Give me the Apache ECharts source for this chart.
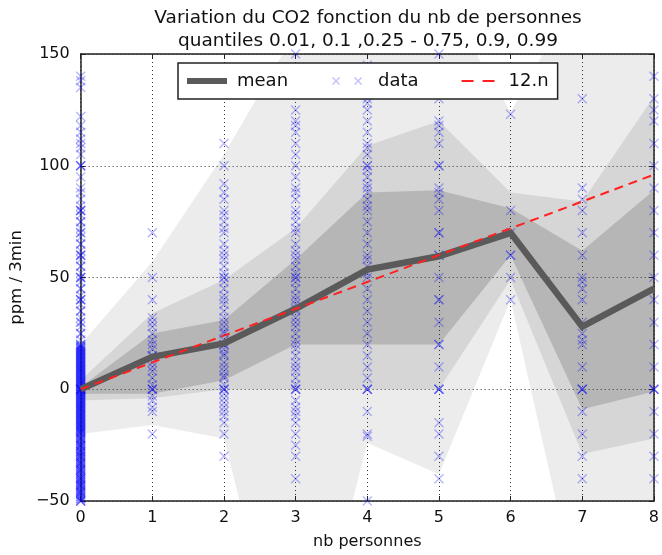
<!DOCTYPE html>
<html>
<head>
<meta charset="utf-8">
<script src="https://cdn.jsdelivr.net/npm/echarts@6/dist/echarts.min.js"></script>
<style>html,body{margin:0;padding:0;background:#fff;}#c{width:662px;height:555px;}</style>
</head>
<body>
<div id="c"></div>
<script>
// ---- data ----
const nbPersonnes = [0, 1, 2, 3, 4, 5, 6, 7, 8];
const meanVals   = [0, 14.5, 20.5, 36, 53.5, 59.5, 70, 28, 45];
const modelVals  = [0, 12, 24, 36, 48, 60, 72, 84, 96];   // 12.n
const q01 = [-20, -16, -22, -150, -24, -38, 40, -102, -80];
const q10 = [-5, -4, 0, 0, 0, 0, 49, -29, -22];
const q25 = [-2, -2, 4, 20, 20, 20, 60, -9, -1];
const q75 = [1, 25, 31, 58, 88, 89, 81, 62, 89];
const q90 = [4, 34, 49, 72, 109, 120, 88, 84, 131];
const q99 = [20, 57, 105, 160, 170, 178, 124, 182, 175];

const pts0 = [140,138,135,122,118,115,112,110,108,105,100,100,100,95,90,88,85,82,80,80,80,78,75,72,70,68,65,62,60,60,60,58,55,52,50,50,50,48,45,42,40,40,40,38,35,32,30,30,28,25,22,
  75,70,65,55,45,35,25,
  20,19,18,17,16,15,14,13,12,11,10,9,8,7,6,5,4,3,2,1,0,-1,-2,-3,-4,-5,-6,-7,-8,-9,-10,-11,-12,-13,-14,-15,-16,-17,-18,-19,-20,
  -21,-22,-23,-24,-25,-26,-27,-28,-29,-30,-31,-32,-33,-34,-35,-36,-37,-38,-39,-40,-41,-42,-43,-44,-45,-46,-47,-48,-49,-50,
  20,18,16,14,12,10,8,6,4,2,0,0,0,-2,-4,-6,-8,-10,-12,-14,-16,-18,-20,-22,-24,-26,-28,-30,-32,-34,-36,-38,-40,-42,-44,-46,-48,-50,
  -21,-23,-25,-27,-29,-31,-33,-35,-37,-39,-41,-43,-45,-47,-49,
  -22,-25,-28,-30,-33,-36,-40,-43,-46,-50,
  19.5,18.5,17.5,16.5,15.5,14.5,13.5,12.5,11.5,10.5,9.5,8.5,7.5,6.5,5.5,4.5,3.5,2.5,1.5,0.5,
  -0.5,-1.5,-2.5,-3.5,-4.5,-5.5,-6.5,-7.5,-8.5,-9.5,-10.5,-11.5,-12.5,-13.5,-14.5,-15.5,-16.5,-17.5,-18.5,-19.5,
  19,17,15,13,11,9,7,5,3,1,0,-1,-3,-5,-7,-9,-11,-13,-15,-17,-19];
const pts1 = [70,50,40,32,30,28,25,22,20,18,15,15,12,10,8,5,2,0,0,0,-3,-5,-8,-10,-20];
const pts2 = [110,100,92,88,85,80,78,75,72,70,65,62,60,58,55,52,50,50,48,45,42,40,38,35,32,30,28,26,25,22,20,20,18,16,15,12,10,8,6,5,2,0,0,0,-2,-4,-6,-8,-10,-12,-15,-20,-30];
const pts3 = [150,125,120,118,115,110,105,100,95,90,88,85,80,78,75,72,70,65,62,60,58,55,52,50,50,48,45,42,40,38,36,35,32,30,28,25,22,20,18,15,12,10,8,5,2,0,0,0,-5,-8,-10,-12,-15,-20,-25,-30,-40];
const pts4 = [145,130,128,125,120,115,110,108,105,100,100,98,95,92,90,88,85,82,80,75,70,65,60,58,55,52,50,45,40,35,30,25,20,15,10,5,0,0,0,-10,-20,-21,-50];
const pts5 = [150,130,120,118,115,110,100,100,90,88,85,80,70,70,60,60,50,40,40,30,20,20,10,0,0,0,-15,-20,-30,-40];
const pts6 = [123,80,70,60,60,50,40];
const pts7 = [130,90,85,80,70,60,50,48,45,40,30,25,22,20,10,0,0,0,-10,-20,-30,-40];
const pts8 = [140,130,125,120,110,100,90,80,70,60,50,40,30,20,10,0,0,0,-10,-20,-30,-40];
const dataByX = [pts0, pts1, pts2, pts3, pts4, pts5, pts6, pts7, pts8];

const yTicks = [-50, 0, 50, 100, 150];
const xTicks = [0, 1, 2, 3, 4, 5, 6, 7, 8];

// ---- build options ----
const scatterData = [];
dataByX.forEach((arr, i) => arr.forEach(v => scatterData.push([nbPersonnes[i], v])));

const bands = [
  {lo: q01, hi: q99, fill: 'rgba(0,0,0,0.075)'},
  {lo: q10, hi: q90, fill: 'rgba(0,0,0,0.09)'},
  {lo: q25, hi: q75, fill: 'rgba(0,0,0,0.15)'}
];

const bandSeries = bands.map(b => ({
  type: 'custom',
  clip: true,
  z: 0,
  silent: true,
  data: [[0, 0]],
  renderItem: function (params, api) {
    const points = [];
    for (let i = 0; i < nbPersonnes.length; i++) points.push(api.coord([nbPersonnes[i], b.hi[i]]));
    for (let i = nbPersonnes.length - 1; i >= 0; i--) points.push(api.coord([nbPersonnes[i], b.lo[i]]));
    return {type: 'polygon', shape: {points: points}, style: {fill: b.fill, stroke: null}};
  }
}));

const XPATH = 'path://M0,1L1,0L5,4L9,0L10,1L6,5L10,9L9,10L5,6L1,10L0,9L4,5Z';
const FONT = 'DejaVu Sans';
const minus = v => String(v).replace('-', '\u2212');

const axisCommon = {
  axisLine: {show: true, onZero: false, lineStyle: {color: '#222', width: 1.5}},
  axisTick: {show: true, inside: true, length: 5, lineStyle: {color: '#222', width: 1}},
  z: 1
};

const chart = echarts.init(document.getElementById('c'), null, {renderer: 'canvas'});
chart.setOption({
  backgroundColor: '#ffffff',
  animation: false,
  textStyle: {fontFamily: FONT},
  title: {
    text: 'Variation du CO2 fonction du nb de personnes\nquantiles 0.01, 0.1 ,0.25 - 0.75, 0.9, 0.99',
    left: 363, top: 2, textAlign: 'center',
    textStyle: {fontFamily: FONT, fontSize: 18.5, fontWeight: 'normal', color: '#111', lineHeight: 23}
  },
  legend: {
    left: 178, top: 63,
    padding: [9, 9],
    itemGap: 40,
    itemWidth: 45, itemHeight: 10,
    borderColor: '#222', borderWidth: 1.5, borderRadius: 0,
    backgroundColor: '#ffffff',
    z: 10,
    selectedMode: false,
    textStyle: {fontFamily: FONT, fontSize: 18, color: '#111'},
    data: [
      {name: 'mean', icon: 'path://M0,0L0.01,0Z M0,2L40,2L40,8L0,8Z M45,10L44.99,10Z', itemStyle: {color: '#5a5a5a', borderWidth: 0}},
      {name: 'data', icon: 'path://M0,0L0.01,0Z M4,2L5,1L8,4L11,1L12,2L9,5L12,8L11,9L8,6L5,9L4,8L7,5Z M26,2L27,1L30,4L33,1L34,2L31,5L34,8L33,9L30,6L27,9L26,8L29,5Z M45,10L44.99,10Z', itemStyle: {color: 'rgba(0,0,255,0.3)', borderWidth: 0}},
      {name: '12.n', icon: 'path://M0,0L0.01,0Z M3,4L15,4L15,6L3,6Z M24,4L36,4L36,6L24,6Z M45,10L44.99,10Z', itemStyle: {color: '#ff2020', borderWidth: 0}}
    ]
  },
  grid: {left: 78, right: 3, top: 54, bottom: 48, containLabel: false},
  xAxis: [
    Object.assign({}, axisCommon, {
      type: 'value', min: xTicks[0], max: xTicks[xTicks.length - 1], interval: 1, position: 'bottom',
      splitLine: {show: true, lineStyle: {type: [1, 3], color: '#333', width: 1}},
      axisLabel: {fontFamily: FONT, fontSize: 16, color: '#111', margin: 9, formatter: minus},
      name: 'nb personnes', nameLocation: 'middle', nameGap: 33,
      nameTextStyle: {fontFamily: FONT, fontSize: 16, color: '#111'}
    }),
    Object.assign({}, axisCommon, {
      type: 'value', min: xTicks[0], max: xTicks[xTicks.length - 1], interval: 1, position: 'top',
      splitLine: {show: false}, axisLabel: {show: false}
    })
  ],
  yAxis: [
    Object.assign({}, axisCommon, {
      type: 'value', min: yTicks[0], max: yTicks[yTicks.length - 1], interval: 50, position: 'left',
      splitLine: {show: true, lineStyle: {type: [1, 3], color: '#333', width: 1}},
      axisLabel: {fontFamily: FONT, fontSize: 16, color: '#111', margin: 11, formatter: minus},
      name: 'ppm / 3min', nameLocation: 'middle', nameGap: 51, nameRotate: 90,
      nameTextStyle: {fontFamily: FONT, fontSize: 16.5, color: '#111'}
    }),
    Object.assign({}, axisCommon, {
      type: 'value', min: yTicks[0], max: yTicks[yTicks.length - 1], interval: 50, position: 'right',
      splitLine: {show: false}, axisLabel: {show: false}
    })
  ],
  series: bandSeries.concat([
    {
      name: 'data', type: 'scatter', z: 2, clip: true,
      symbol: XPATH, symbolSize: 10,
      itemStyle: {color: 'rgba(0,0,255,0.36)'},
      data: scatterData
    },
    {
      name: 'mean', type: 'line', z: 3, clip: true,
      symbol: 'none', showSymbol: false,
      lineStyle: {color: '#5a5a5a', width: 6.5, cap: 'butt', join: 'miter'},
      itemStyle: {color: '#5a5a5a'},
      data: nbPersonnes.map((x, i) => [x, meanVals[i]])
    },
    {
      name: '12.n', type: 'line', z: 4, clip: true,
      symbol: 'none', showSymbol: false,
      lineStyle: {color: '#ff2020', width: 2, type: [9, 6]},
      itemStyle: {color: '#ff2020'},
      data: nbPersonnes.map((x, i) => [x, modelVals[i]])
    }
  ])
});
</script>
</body>
</html>
